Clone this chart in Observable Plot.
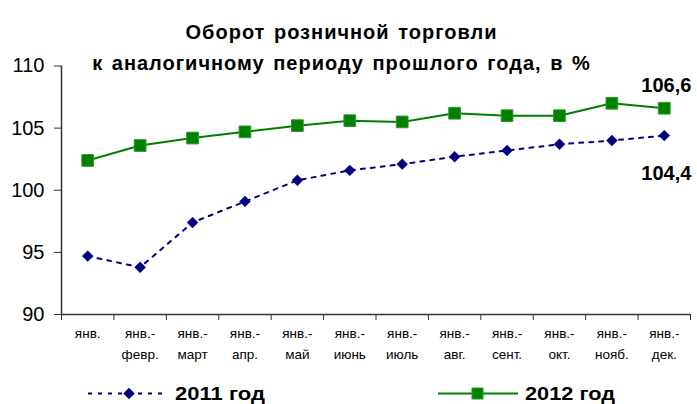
<!DOCTYPE html>
<html><head><meta charset="utf-8">
<script src="https://cdn.jsdelivr.net/npm/d3@7"></script>
<script src="https://cdn.jsdelivr.net/npm/@observablehq/plot@0.6"></script>
<style>body{margin:0;background:#fff;font-family:"Liberation Sans",Arial,sans-serif}</style>
</head><body><div id="chart"></div>
<script>
const months = ["янв.","янв.-\nфевр.","янв.-\nмарт","янв.-\nапр.","янв.-\nмай","янв.-\nиюнь","янв.-\nиюль","янв.-\nавг.","янв.-\nсент.","янв.-\nокт.","янв.-\nнояб.","янв.-\nдек."];
const values2011 = [94.7,93.8,97.4,99.1,100.8,101.6,102.1,102.7,103.2,103.7,104.0,104.4];
const values2012 = [102.4,103.6,104.2,104.7,105.2,105.6,105.5,106.2,106.0,106.0,107.0,106.6];
const yTicks = [90,95,100,105,110];
const seriesNames = ["2011 год","2012 год"];
const titleLines = ["Оборот розничной торговли","к аналогичному периоду прошлого года, в %"];

const d11 = values2011.map((v,i)=>({i:i+0.5,v}));
const d12 = values2012.map((v,i)=>({i:i+0.5,v}));
const lab = months.map((m,i)=>({i:i+0.5,l1:m.split("\n")[0],l2:m.split("\n")[1]||""}));
const navy="#000080", green="#008000";

const W=697,H=404,mL=61,mR=7,mT=65.5,mB=90;
const chart = Plot.plot({
  width:W,height:H,marginLeft:mL,marginRight:mR,marginTop:mT,marginBottom:mB,
  style:{fontFamily:"Liberation Sans, Arial, sans-serif",background:"#fff"},
  x:{domain:[0,12]},
  y:{domain:[90,110]},
  marks:[
    Plot.axisY({ticks:yTicks,tickSize:7,tickPadding:10,fontSize:20,tickFormat:d=>d,label:null,stroke:"#333",fill:"#000"}),
    Plot.axisX({ticks:d3.range(13),tickSize:6,tickFormat:()=>"",label:null,stroke:"#333"}),
    Plot.ruleX([0],{stroke:"#333",strokeWidth:1.5}),
    Plot.ruleY([90],{stroke:"#333",strokeWidth:1.5}),
    Plot.text(lab,{x:"i",text:"l1",frameAnchor:"bottom",dy:23,fontSize:13.5,fill:"#000"}),
    Plot.text(lab,{x:"i",text:"l2",frameAnchor:"bottom",dy:44.5,fontSize:13.5,fill:"#000"}),
    Plot.line(d11,{x:"i",y:"v",stroke:navy,strokeWidth:2,strokeDasharray:"4,6"}),
    Plot.line(d12,{x:"i",y:"v",stroke:green,strokeWidth:2}),
    Plot.dot(d11,{x:"i",y:"v",symbol:"diamond2",r:4.9,fill:navy,stroke:navy,strokeWidth:0.5}),
    Plot.dot(d12,{x:"i",y:"v",symbol:"square",r:6.6,fill:green,stroke:"#2a9a2a",strokeWidth:1}),
    Plot.text([d12[11]],{x:"i",y:"v",text:d=>String(d.v).replace(".",","),dx:2,dy:-23,fontSize:20,fontWeight:"bold",fill:"#000"}),
    Plot.text([d11[11]],{x:"i",y:"v",text:d=>String(d.v).replace(".",","),dx:2,dy:38,fontSize:20,fontWeight:"bold",fill:"#000"}),
    Plot.text([titleLines[0]],{frameAnchor:"top",dx:341-(W+mL-mR)/2,dy:-41,fontSize:20,fontWeight:"bold",fill:"#000",className:"ttl"}),
    Plot.text([titleLines[1]],{frameAnchor:"top",dx:341-(W+mL-mR)/2,dy:-10,fontSize:20,fontWeight:"bold",fill:"#000",className:"ttl"})
  ]
});
document.getElementById("chart").appendChild(chart);
d3.select(chart).selectAll(".ttl text").style("letter-spacing","1px").style("word-spacing","2px");

// legend
const svg = d3.select(chart);
const g = svg.append("g").attr("transform","translate(0,393.5)");
g.append("line").attr("x1",88).attr("x2",163).attr("y1",0).attr("y2",0).attr("stroke",navy).attr("stroke-width",2).attr("stroke-dasharray","4,6");
g.append("path").attr("d",d3.symbol(d3.symbolDiamond2,84)()).attr("transform","translate(129,0)").attr("fill",navy);
g.append("text").attr("x",175).attr("y",6).attr("text-anchor","start").attr("font-size",19).attr("font-weight","bold")
  .attr("textLength",90).attr("lengthAdjust","spacingAndGlyphs").attr("fill","#000").text(seriesNames[0]);
g.append("line").attr("x1",438).attr("x2",518).attr("y1",0).attr("y2",0).attr("stroke",green).attr("stroke-width",2);
g.append("rect").attr("x",472).attr("y",-5.5).attr("width",11).attr("height",11).attr("fill",green).attr("stroke","#2a9a2a");
g.append("text").attr("x",525).attr("y",6).attr("text-anchor","start").attr("font-size",19).attr("font-weight","bold")
  .attr("textLength",90).attr("lengthAdjust","spacingAndGlyphs").attr("fill","#000").text(seriesNames[1]);
</script></body></html>
